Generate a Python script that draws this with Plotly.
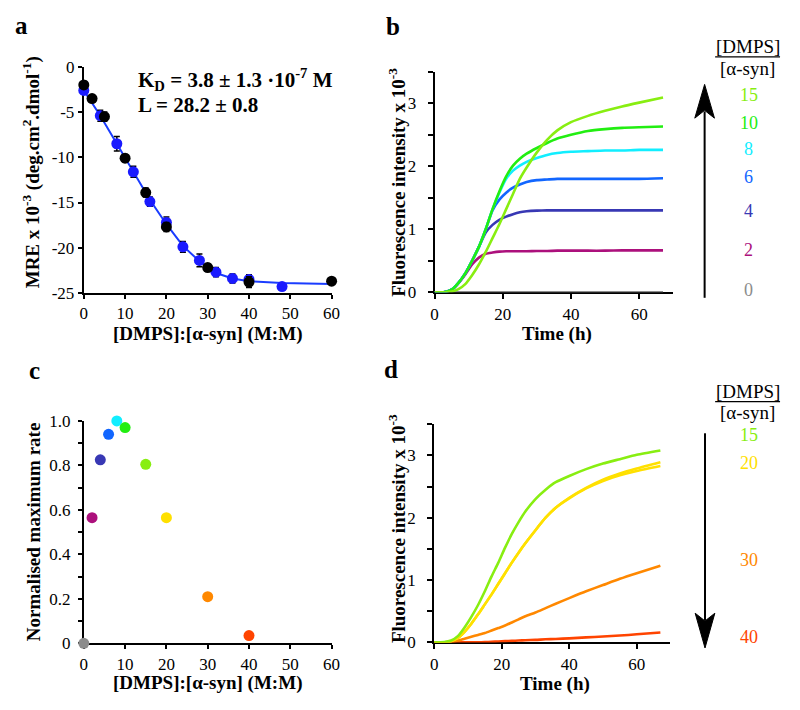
import plotly.graph_objects as go

# The page body has an 8 px default margin: the figure is sized so the page fits the 800x710 window.
PAGE_W, PAGE_H = 800, 710
OFF = 8
W, H = PAGE_W - 2 * OFF, PAGE_H - 2 * OFF
SERIF = "Liberation Serif"

# ---------------- Panel a : CD titration ----------------
a_black_x = [0, 2, 5, 10, 15, 20, 30, 40, 60]
a_black_y = [-2.0, -3.5, -5.5, -10.1, -13.9, -17.7, -22.2, -23.8, -23.7]
a_black_err = [0.4, 0.3, 0.5, 0.4, 0.5, 0.5, 0.4, 0.6, 0.3]
a_blue_x = [0, 4, 8, 12, 16, 20, 24, 28, 32, 36, 40, 48]
a_blue_y = [-2.6, -5.4, -8.5, -11.6, -14.9, -17.2, -19.9, -21.4, -22.7, -23.4, -23.5, -24.3]
a_blue_err = [0.4, 0.6, 0.8, 0.6, 0.5, 0.6, 0.6, 0.7, 0.5, 0.5, 0.5, 0.3]
a_fit_x = [0, 4, 8, 12, 16, 20, 24, 28, 32, 36, 40, 48, 60]
a_fit_y = [-2.6, -5.4, -8.5, -11.6, -14.7, -17.4, -19.8, -21.5, -22.8, -23.4, -23.7, -23.9, -24.0]
a_xticks = [0, 10, 20, 30, 40, 50, 60]
a_yticks = [0, -5, -10, -15, -20, -25]
a_yticklabels = ["0", "-5", "-10", "-15", "-20", "-25"]

# ---------------- Panel b : ThT kinetics, ratios 0-15 ----------------
t = [0, 3, 5, 7, 9, 11, 13, 15, 17, 19, 21, 23, 25, 27, 30, 33, 36, 40, 45, 50, 55, 60, 67]
b_ratios = ["15", "10", "8", "6", "4", "2", "0"]
b_colors = ["#88ee11", "#22ee11", "#11eeff", "#1166ff", "#3838b4", "#ac107c", "#8c8c8c"]
b_r0 = [0.0] * 23
b_r2 = [0, 0.005, 0.04, 0.14, 0.28, 0.44, 0.55, 0.61, 0.63, 0.645, 0.65, 0.65, 0.65, 0.65, 0.655, 0.655, 0.66, 0.66, 0.66, 0.66, 0.665, 0.665, 0.665]
b_r4 = [0, 0.005, 0.04, 0.15, 0.30, 0.50, 0.72, 0.95, 1.07, 1.15, 1.20, 1.24, 1.27, 1.285, 1.295, 1.30, 1.30, 1.30, 1.30, 1.30, 1.30, 1.30, 1.30]
b_r6 = [0, 0.005, 0.04, 0.15, 0.30, 0.50, 0.72, 1.00, 1.30, 1.47, 1.58, 1.66, 1.71, 1.75, 1.78, 1.79, 1.80, 1.80, 1.80, 1.80, 1.80, 1.80, 1.81]
b_r8 = [0, 0.005, 0.04, 0.15, 0.30, 0.50, 0.72, 1.00, 1.32, 1.58, 1.80, 1.93, 2.01, 2.07, 2.13, 2.18, 2.21, 2.23, 2.24, 2.25, 2.25, 2.26, 2.26]
b_r10 = [0, 0.005, 0.04, 0.15, 0.30, 0.50, 0.72, 1.00, 1.32, 1.60, 1.84, 2.01, 2.12, 2.20, 2.29, 2.37, 2.44, 2.50, 2.56, 2.59, 2.61, 2.62, 2.63]
b_r15 = [0, 0.0, 0.01, 0.05, 0.13, 0.27, 0.44, 0.64, 0.86, 1.08, 1.32, 1.56, 1.80, 1.98, 2.22, 2.42, 2.57, 2.70, 2.80, 2.88, 2.95, 3.01, 3.09]
b_series = [b_r15, b_r10, b_r8, b_r6, b_r4, b_r2, b_r0]

# ---------------- Panel c : normalised maximum rate ----------------
c_ratio = [0, 2, 4, 6, 8, 10, 15, 20, 30, 40]
c_rate = [0.0, 0.565, 0.825, 0.94, 1.0, 0.97, 0.805, 0.565, 0.21, 0.035]
c_colors = ["#8c8c8c", "#ac107c", "#3838b4", "#1166ff", "#11eeff", "#22ee11", "#88ee11", "#ffe000", "#ff8800", "#ff4400"]
c_yticks = [0, 0.2, 0.4, 0.6, 0.8, 1.0]
c_yticklabels = ["0", "0.2", "0.4", "0.6", "0.8", "1.0"]
c_yminor = [0.1, 0.3, 0.5, 0.7, 0.9]

# ---------------- Panel d : ThT kinetics, ratios 15-40 ----------------
d_ratios = ["15", "20", "30", "40"]
d_colors = ["#88ee11", "#ffe000", "#ff8800", "#ff4400"]
d_r15 = [0, 0.005, 0.03, 0.10, 0.24, 0.41, 0.60, 0.82, 1.06, 1.28, 1.52, 1.74, 1.93, 2.10, 2.30, 2.45, 2.57, 2.67, 2.78, 2.87, 2.94, 3.01, 3.08]
d_r20a = [0, 0.0, 0.02, 0.07, 0.17, 0.30, 0.45, 0.61, 0.77, 0.94, 1.11, 1.28, 1.44, 1.59, 1.80, 2.00, 2.16, 2.32, 2.48, 2.61, 2.71, 2.79, 2.89]
d_r20b = [0, 0.0, 0.02, 0.07, 0.17, 0.30, 0.45, 0.61, 0.77, 0.94, 1.11, 1.28, 1.44, 1.59, 1.80, 2.00, 2.16, 2.31, 2.47, 2.59, 2.68, 2.75, 2.83]
d_r30 = [0, 0.0, 0.01, 0.03, 0.06, 0.09, 0.12, 0.15, 0.19, 0.23, 0.27, 0.32, 0.37, 0.42, 0.48, 0.55, 0.62, 0.71, 0.82, 0.92, 1.02, 1.11, 1.23]
d_r40 = [0, 0.0, 0.0, 0.0, 0.0, 0.0, 0.002, 0.005, 0.01, 0.015, 0.02, 0.025, 0.03, 0.035, 0.04, 0.05, 0.055, 0.065, 0.08, 0.095, 0.11, 0.13, 0.16]
d_series = [(d_r15, d_colors[0]), (d_r20a, d_colors[1]), (d_r20b, d_colors[1]), (d_r30, d_colors[2]), (d_r40, d_colors[3])]

fl_ticks = [0, 1, 2, 3]
fl_minor = [0.5, 1.5, 2.5, 3.5]
time_ticks = [0, 20, 40, 60]


def px(x):
    return (x - OFF) / W


def py(y):
    return 1 - (y - OFF) / H


fig = go.Figure()

# panel a
fig.add_trace(go.Scatter(x=a_fit_x, y=a_fit_y, mode="lines", line=dict(color="#1a3cff", width=2),
                         xaxis="x", yaxis="y", cliponaxis=False, showlegend=False))
fig.add_trace(go.Scatter(x=a_blue_x, y=a_blue_y, mode="markers",
                         marker=dict(color="#1a1aff", size=11),
                         error_y=dict(type="data", array=a_blue_err, color="black", thickness=1.5, width=3),
                         xaxis="x", yaxis="y", cliponaxis=False, showlegend=False))
fig.add_trace(go.Scatter(x=a_black_x, y=a_black_y, mode="markers",
                         marker=dict(color="black", size=11),
                         error_y=dict(type="data", array=a_black_err, color="black", thickness=1.5, width=3),
                         xaxis="x", yaxis="y", cliponaxis=False, showlegend=False))

# panel b
for vals, col in zip(reversed(b_series), reversed(b_colors)):
    fig.add_trace(go.Scatter(x=t, y=vals, mode="lines", line=dict(color=col, width=2.6, shape="spline", smoothing=0.6),
                             xaxis="x2", yaxis="y2", cliponaxis=False, showlegend=False))

# panel c
fig.add_trace(go.Scatter(x=c_ratio, y=c_rate, mode="markers",
                         marker=dict(color=c_colors, size=11),
                         xaxis="x3", yaxis="y3", cliponaxis=False, showlegend=False))

# panel d
for vals, col in reversed(d_series):
    fig.add_trace(go.Scatter(x=t, y=vals, mode="lines", line=dict(color=col, width=2.6, shape="spline", smoothing=0.6),
                             xaxis="x4", yaxis="y4", cliponaxis=False, showlegend=False))

tickfont = dict(family=SERIF, size=17, color="black")


def axis(**kw):
    d = dict(showline=True, linecolor="black", linewidth=2, ticks="outside", ticklen=5, tickwidth=2,
             tickcolor="black", showgrid=False, zeroline=False, tickfont=tickfont, fixedrange=True,
             layer="below traces")
    d.update(kw)
    return d


def minor(vals, ln=5):
    return dict(tickvals=vals, ticks="outside", ticklen=ln, tickwidth=2, tickcolor="black", showgrid=False)


fig.update_layout(
    width=W, height=H, margin=dict(l=0, r=0, t=0, b=0, pad=0), autosize=False,
    paper_bgcolor="white", plot_bgcolor="white",
    font=dict(family=SERIF, color="black"),
    xaxis=axis(domain=[px(81), px(333)], range=[0, 60], tickvals=a_xticks, anchor="y", ticklen=4),
    yaxis=axis(domain=[py(291.7), py(59.3)], range=[-25, 0], tickvals=a_yticks, ticktext=a_yticklabels,
               anchor="x", ticklen=4),
    xaxis2=axis(domain=[px(437.7), px(680.4)], range=[0, 70], tickvals=time_ticks, anchor="y2"),
    yaxis2=axis(domain=[py(291), py(64.3)], range=[0, 3.5], tickvals=fl_ticks, anchor="x2",
                ticklabelstandoff=8, minor=minor(fl_minor)),
    xaxis3=axis(domain=[px(81), px(333)], range=[0, 60], tickvals=a_xticks, anchor="y3", ticklen=4),
    yaxis3=axis(domain=[py(652), py(423.3)], range=[0, 1], tickvals=c_yticks, ticktext=c_yticklabels,
                anchor="x3", ticklen=4, ticklabelstandoff=4, minor=minor(c_yminor, 4)),
    xaxis4=axis(domain=[px(437.3), px(677.6)], range=[0, 70], tickvals=time_ticks, anchor="y4"),
    yaxis4=axis(domain=[py(651), py(426.7)], range=[0, 3.5], tickvals=fl_ticks, anchor="x4",
                ticklabelstandoff=8, minor=minor(fl_minor)),
)

ann = []


def text(x, y, s, size=19, color="black", angle=0, xanchor="center", bold=False):
    ann.append(dict(x=px(x), y=py(y), xref="paper", yref="paper", text=("<b>%s</b>" % s) if bold else s,
                    showarrow=False, textangle=angle, xanchor=xanchor, yanchor="middle",
                    font=dict(family=SERIF, size=size, color=color)))


# panel letters
text(18, 17, "a", size=25, bold=True)
text(395, 18, "b", size=25, bold=True)
text(31, 371, "c", size=25, bold=True)
text(393, 370, "d", size=25, bold=True)

# axis titles
text(28, 168, "MRE x 10<sup>-3</sup> (deg.cm<sup>2</sup>.dmol<sup>-1</sup>)", size=19, angle=-90, bold=True)
text(207, 334, "[DMPS]:[α-syn] (M:M)", size=19, bold=True)
text(400, 178, "Fluorescence intensity x 10<sup>-3</sup>", size=19, angle=-90, bold=True)
text(562, 334, "Time (h)", size=19, bold=True)
text(30, 538, "Normalised maximum rate", size=19, angle=-90, bold=True)
text(207, 693, "[DMPS]:[α-syn] (M:M)", size=19, bold=True)
text(399, 534, "Fluorescence intensity x 10<sup>-3</sup>", size=19, angle=-90, bold=True)
text(560, 694, "Time (h)", size=19, bold=True)

# fit parameters
text(134, 72, "K<sub>D</sub> = 3.8 ± 1.3 ·10<sup>-7</sup> M", size=21, xanchor="left", bold=True)
text(134, 98, "L = 28.2 ± 0.8", size=21, xanchor="left", bold=True)

# legends (ratio fractions)
text(756, 38, "[DMPS]", size=19)
text(756, 61, "[α-syn]", size=19)
text(756, 393, "[DMPS]", size=19)
text(756, 415, "[α-syn]", size=19)
b_label_y = [88, 117, 144, 173, 207, 248, 289]
for lab, col, yy in zip(b_ratios, b_colors, b_label_y):
    text(757, yy, lab, size=18, color=col)
d_label_y = [438, 467, 566, 645]
for lab, col, yy in zip(d_ratios, d_colors, d_label_y):
    text(757, yy, lab, size=18, color=col)

fig.update_layout(annotations=ann)

shapes = []
# fraction bars
for yy in (49, 403.5):
    shapes.append(dict(type="line", xref="paper", yref="paper", x0=px(723), x1=px(789), y0=py(yy), y1=py(yy),
                       line=dict(color="black", width=1.2)))
# arrow b (upwards)
shapes.append(dict(type="line", xref="paper", yref="paper", x0=px(712.3), x1=px(712.3), y0=py(296.7), y1=py(105),
                   line=dict(color="black", width=2)))
shapes.append(dict(type="path", xref="paper", yref="paper",
                   path="M %f,%f L %f,%f L %f,%f L %f,%f Z" % (px(712.3), py(77.3), px(702.3), py(112),
                                                               px(712.3), py(104), px(722.3), py(112)),
                   fillcolor="black", line=dict(color="black", width=1)))
# arrow d (downwards)
shapes.append(dict(type="line", xref="paper", yref="paper", x0=px(712.7), x1=px(712.7), y0=py(436), y1=py(628),
                   line=dict(color="black", width=2)))
shapes.append(dict(type="path", xref="paper", yref="paper",
                   path="M %f,%f L %f,%f L %f,%f L %f,%f Z" % (px(712.7), py(656.7), px(702.7), py(621),
                                                               px(712.7), py(629), px(722.7), py(621)),
                   fillcolor="black", line=dict(color="black", width=1)))
fig.update_layout(shapes=shapes)

fig.write_html("out.html")
